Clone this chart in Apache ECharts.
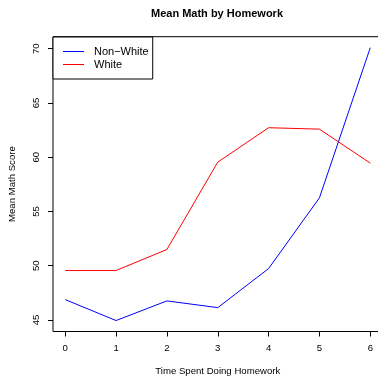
<!DOCTYPE html>
<html>
<head>
<meta charset="utf-8">
<script src="https://cdn.jsdelivr.net/npm/echarts@6/dist/echarts.min.js"></script>
<style>
  html, body { margin: 0; padding: 0; background: #fff; }
  #chart { width: 378px; height: 377px; }
</style>
</head>
<body>
<div id="chart"></div>
<script>
// Hours of homework per week (category of time spent)
const hours = [0, 1, 2, 3, 4, 5, 6];
// Mean math score by group
const nonWhite = [46.87, 44.94, 46.75, 46.13, 49.73, 56.25, 70.09];
const white = [49.55, 49.55, 51.49, 59.54, 62.71, 62.58, 59.45];
// Axis tick values
const xTicks = [0, 1, 2, 3, 4, 5, 6];
const yTicks = [45, 50, 55, 60, 65, 70];

const FONT = 'Liberation Sans, Arial, Helvetica, sans-serif';

const chart = echarts.init(document.getElementById('chart'), null, { renderer: 'canvas' });

chart.setOption({
  backgroundColor: '#ffffff',
  animation: false,
  title: {
    text: 'Mean Math by Homework',
    left: 151,
    top: 8,
    padding: 0,
    textStyle: { fontFamily: FONT, fontSize: 11, fontWeight: 'bold', color: '#000' }
  },
  legend: {
    orient: 'vertical',
    left: 53,
    top: 37,
    padding: [8, 4, 8, 10],
    itemGap: 0,
    itemWidth: 21,
    itemHeight: 1,
    icon: 'rect',
    itemStyle: { borderWidth: 0 },
    backgroundColor: '#fff',
    borderColor: '#000',
    borderWidth: 1,
    borderRadius: 0,
    textStyle: { fontFamily: FONT, fontSize: 11, lineHeight: 13, color: '#000', padding: [0, 0, 0, 5] },
    data: ['Non\u2212White', 'White']
  },
  grid: {
    left: 53,
    width: 329.5,
    top: 36.7,
    bottom: 45.5,
    outerBoundsMode: 'none',
    show: true,
    borderColor: '#000',
    borderWidth: 1,
    containLabel: false
  },
  xAxis: {
    type: 'value',
    min: -0.24,
    max: 6.24,
    name: 'Time Spent Doing Homework',
    nameLocation: 'middle',
    nameGap: 35,
    nameTextStyle: { fontFamily: FONT, fontSize: 9.6, color: '#000' },
    axisLine: { show: false, onZero: false },
    axisTick: { show: true, length: 5, inside: false, lineStyle: { color: '#000' }, customValues: xTicks },
    axisLabel: { fontFamily: FONT, fontSize: 9.6, color: '#000', margin: 12, customValues: xTicks },
    splitLine: { show: false }
  },
  yAxis: {
    type: 'value',
    min: 43.93,
    max: 71.1,
    name: 'Mean Math Score',
    nameLocation: 'middle',
    nameRotate: 90,
    nameGap: 36,
    nameTextStyle: { fontFamily: FONT, fontSize: 9.6, color: '#000' },
    axisLine: { show: false, onZero: false },
    axisTick: { show: true, length: 5, inside: false, lineStyle: { color: '#000' }, customValues: yTicks },
    axisLabel: { fontFamily: FONT, fontSize: 9.6, color: '#000', margin: 12, rotate: 90, customValues: yTicks },
    splitLine: { show: false }
  },
  series: [
    {
      name: 'Non\u2212White',
      type: 'line',
      data: hours.map((h, i) => [h, nonWhite[i]]),
      symbol: 'none',
      lineStyle: { color: '#0000ff', width: 1 },
      itemStyle: { color: '#0000ff' }
    },
    {
      name: 'White',
      type: 'line',
      data: hours.map((h, i) => [h, white[i]]),
      symbol: 'none',
      lineStyle: { color: '#ff0000', width: 1 },
      itemStyle: { color: '#ff0000' }
    }
  ]
});
</script>
</body>
</html>
